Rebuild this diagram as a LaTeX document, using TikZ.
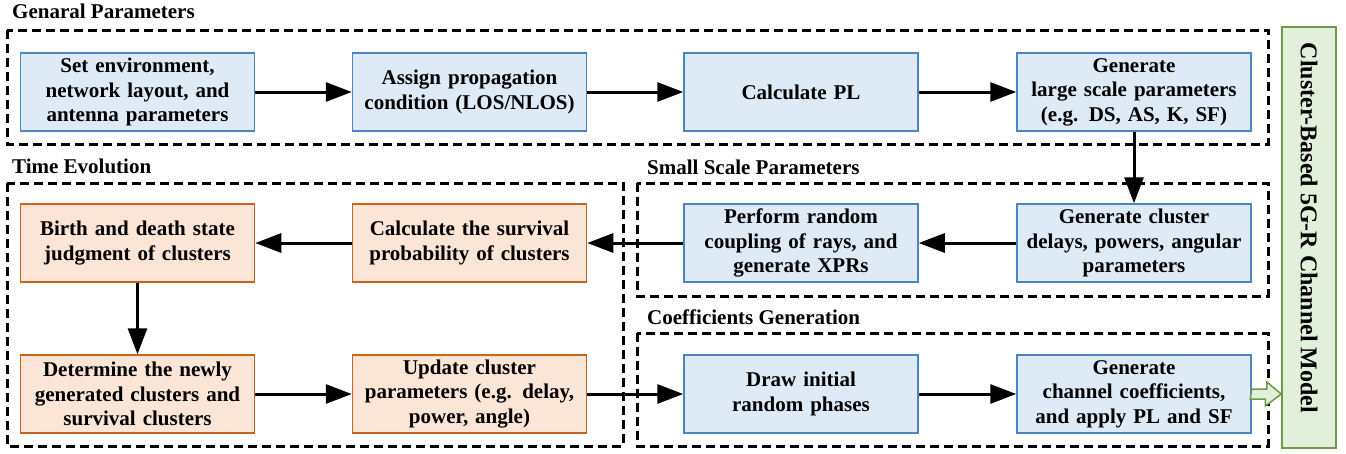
\documentclass[tikz,border=0pt]{standalone}
\usepackage{fontspec}
\setmainfont{Liberation Serif}[BoldFont={Liberation Serif Bold}]
\usetikzlibrary{arrows.meta,calc}
\definecolor{bfill}{HTML}{DEEAF6}
\definecolor{bline}{HTML}{4A86C4}
\definecolor{ofill}{HTML}{FBE5D6}
\definecolor{oline}{HTML}{C9651B}
\definecolor{gfill}{HTML}{E2EFDA}
\definecolor{gline}{HTML}{6B9B44}
\tikzset{
  base/.style={minimum width=234pt, minimum height=78pt, text width=230pt, align=center, inner sep=0pt, line width=1.5pt,
    font=\fontsize{21}{24.5}\selectfont\bfseries},
  bbox/.style={base, draw=bline, fill=bfill},
  obox/.style={base, draw=oline, fill=ofill},
  grp/.style={draw, line width=3pt, dash pattern=on 9pt off 5pt},
  ttl/.style={anchor=base west, inner sep=0pt, font=\fontsize{21}{23}\selectfont\bfseries},
  arr/.style={line width=3pt, -{Triangle[length=26pt,width=19pt]}},
}
\begin{document}
\begin{tikzpicture}[x=1pt,y=-1pt]
\useasboundingbox (0,0) rectangle (1346,453);
% groups
\draw[grp] (7,30) rectangle (1268,144);
\draw[grp] (7,183) rectangle (623,446);
\draw[grp] (637,183) rectangle (1268,296);
\draw[grp] (637,333) rectangle (1268,446);
\node[ttl] (t1) at (12,18) {Genaral Parameters};
\node[ttl] (t2) at (12,173) {Time Evolution};
\node[ttl] (t3) at (647,174) {Small Scale Parameters};
\node[ttl] (t4) at (647,324) {Coefficients Generation};
% row 1
\node[bbox] (a1) at (137.5,92) {Set environment,\\network layout, and\\antenna parameters};
\node[bbox] (a2) at (469.5,92) {Assign propagation\\condition (LOS/NLOS)};
\node[bbox] (a3) at (801,92) {Calculate PL};
\node[bbox] (a4) at (1134,92) {Generate\\large scale parameters\\(e.g. DS, AS, K, SF)};
% row 2
\node[obox] (b1) at (137.5,243) {Birth and death state\\judgment of clusters};
\node[obox] (b2) at (469.5,243) {Calculate the survival\\probability of clusters};
\node[bbox] (b3) at (801,243) {Perform random\\coupling of rays, and\\generate XPRs};
\node[bbox] (b4) at (1134,243) {Generate cluster\\delays, powers, angular\\parameters};
% row 3
\node[obox] (c1) at (137.5,394) {Determine the newly\\generated clusters and\\survival clusters};
\node[obox] (c2) at (469.5,394) {Update cluster\\parameters (e.g. delay,\\power, angle)};
\node[bbox] (c3) at (801,394) {Draw initial\\random phases};
\node[bbox] (c4) at (1134,394) {Generate\\channel coefficients,\\and apply PL and SF};
% green
\node[draw=gline, fill=gfill, line width=1.5pt, minimum width=54pt, minimum height=421pt, inner sep=0pt] (g) at (1309,237.5) {};
\node[rotate=-90, font=\fontsize{24}{26}\selectfont\bfseries] (gt) at (1309,228) {Cluster-Based 5G-R Channel Model};
% arrows
\draw[arr] (a1) -- (a2);
\draw[arr] (a2) -- (a3);
\draw[arr] (a3) -- (a4);
\draw[arr] (a4) -- (b4);
\draw[arr] (b4) -- (b3);
\draw[arr] (b3) -- (b2);
\draw[arr] (b2) -- (b1);
\draw[arr] (b1) -- (c1);
\draw[arr] (c1) -- (c2);
\draw[arr] (c2) -- (c3);
\draw[arr] (c3) -- (c4);
% hollow arrow
\draw[draw=gline, fill=gfill, line width=1.5pt]
  (c4.east) ++(0,-5) -- ++(15,0) -- ++(0,-7) -- (g.west |- c4.east) -- ++(-16,12) -- ++(0,-7) -- ++(-15,0) -- cycle;
\end{tikzpicture}
\end{document}
